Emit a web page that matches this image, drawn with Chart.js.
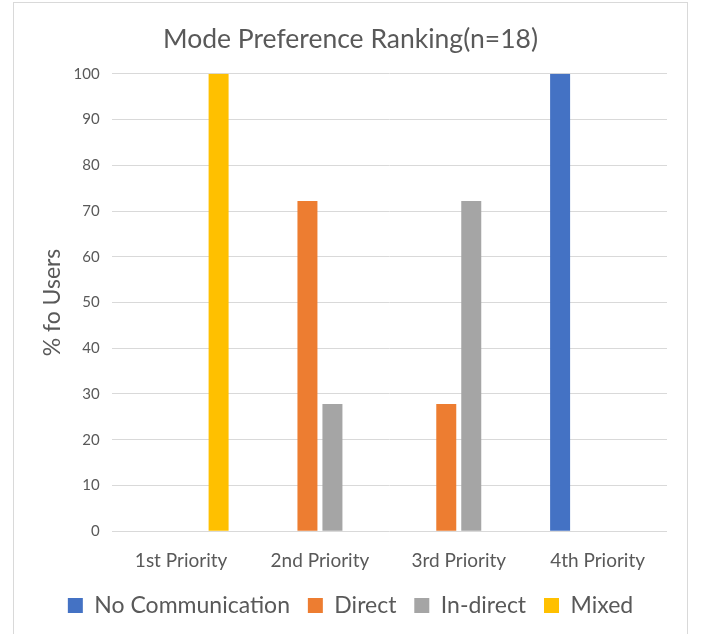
<!DOCTYPE html>
<html>
<head>
<meta charset="utf-8">
<script src="https://cdn.jsdelivr.net/npm/chart.js@4"></script>
<style>
  html, body { margin: 0; padding: 0; background: #fff; }
  #wrap { position: relative; width: 702px; height: 634px; overflow: hidden; }
  #frame { position: absolute; left: 13px; top: 2px; width: 675px; height: 650px; border: 1px solid #d9d9d9; box-sizing: border-box; }
  #chart { position: absolute; left: 0; top: 0; }
</style>
</head>
<body>
<div id="wrap">
  <div id="frame"></div>
  <canvas id="chart" width="702" height="634"></canvas>
</div>
<script>
const categories = ['1st Priority', '2nd Priority', '3rd Priority', '4th Priority'];
const noCommunication = [0, 0, 0, 100];
const direct = [0, 72.2, 27.8, 0];
const indirect = [0, 27.8, 72.2, 0];
const mixed = [100, 0, 0, 0];

const textColor = '#595959';
const font = 'Lato, "Open Sans", sans-serif';

new Chart(document.getElementById('chart'), {
  type: 'bar',
  data: {
    labels: categories,
    datasets: [
      { label: 'No Communication', data: noCommunication, backgroundColor: '#4472c4' },
      { label: 'Direct', data: direct, backgroundColor: '#ed7d31' },
      { label: 'In-direct', data: indirect, backgroundColor: '#a5a5a5' },
      { label: 'Mixed', data: mixed, backgroundColor: '#ffc000' }
    ]
  },
  options: {
    responsive: false,
    animation: false,
    categoryPercentage: 0.72,
    barPercentage: 0.8,
    layout: { padding: { left: 34, right: 35, top: 20, bottom: 7 } },
    plugins: {
      title: {
        display: true,
        text: 'Mode Preference Ranking(n=18)',
        color: textColor,
        font: { family: font, size: 26.5, weight: 'normal' },
        padding: { top: 4, bottom: 18 }
      },
      legend: {
        position: 'bottom',
        labels: {
          color: textColor,
          font: { family: font, size: 23 },
          boxWidth: 15,
          boxHeight: 15,
          padding: 12,
          generateLabels: (chart) => {
            const items = Chart.defaults.plugins.legend.labels.generateLabels(chart);
            // a little extra room between entries, like the original
            items.forEach((it, i) => { if (i < items.length - 1) it.text += ' '; });
            return items;
          }
        }
      },
      tooltip: { enabled: false }
    },
    scales: {
      x: {
        grid: { display: false },
        border: { display: false },
        ticks: { color: textColor, font: { family: font, size: 19 }, padding: 10 }
      },
      y: {
        min: 0,
        max: 100,
        ticks: { stepSize: 10, color: textColor, font: { family: font, size: 15 }, padding: 12 },
        grid: { color: '#d9d9d9', drawTicks: false },
        border: { display: false },
        title: {
          display: true,
          text: '% fo Users',
          color: textColor,
          font: { family: font, size: 23 },
          padding: { top: 5, bottom: -5 }
        }
      }
    }
  }
});
</script>
</body>
</html>
